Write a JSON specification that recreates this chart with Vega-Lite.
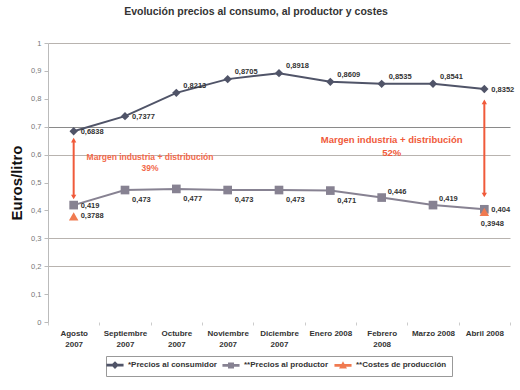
{
  "$schema": "https://vega.github.io/schema/vega-lite/v6.json",
  "width": 462,
  "height": 279,
  "autosize": "none",
  "padding": {"left": 48, "top": 43, "right": 10, "bottom": 68},
  "config": {
    "font": "Liberation Sans",
    "view": {"stroke": null},
    "axisY": {"tickCount": 11},
    "locale": {"number": {"decimal": ",", "thousands": ".", "grouping": [3], "currency": ["", " €"]}}
  },
  "title": {
    "text": "Evolución precios al consumo, al productor y costes",
    "fontSize": 10.5,
    "fontWeight": "bold",
    "color": "#333333",
    "anchor": "middle",
    "offset": 22,
    "dx": -23
  },
  "datasets": {
    "precios": [
      {"mes": "Agosto 2007", "serie": "*Precios al consumidor", "valor": 0.6838},
      {"mes": "Septiembre 2007", "serie": "*Precios al consumidor", "valor": 0.7377},
      {"mes": "Octubre 2007", "serie": "*Precios al consumidor", "valor": 0.8213},
      {"mes": "Noviembre 2007", "serie": "*Precios al consumidor", "valor": 0.8705},
      {"mes": "Diciembre 2007", "serie": "*Precios al consumidor", "valor": 0.8918},
      {"mes": "Enero 2008", "serie": "*Precios al consumidor", "valor": 0.8609},
      {"mes": "Febrero 2008", "serie": "*Precios al consumidor", "valor": 0.8535},
      {"mes": "Marzo 2008", "serie": "*Precios al consumidor", "valor": 0.8541},
      {"mes": "Abril 2008", "serie": "*Precios al consumidor", "valor": 0.8352},
      {"mes": "Agosto 2007", "serie": "**Precios al productor", "valor": 0.419},
      {"mes": "Septiembre 2007", "serie": "**Precios al productor", "valor": 0.473},
      {"mes": "Octubre 2007", "serie": "**Precios al productor", "valor": 0.477},
      {"mes": "Noviembre 2007", "serie": "**Precios al productor", "valor": 0.473},
      {"mes": "Diciembre 2007", "serie": "**Precios al productor", "valor": 0.473},
      {"mes": "Enero 2008", "serie": "**Precios al productor", "valor": 0.471},
      {"mes": "Febrero 2008", "serie": "**Precios al productor", "valor": 0.446},
      {"mes": "Marzo 2008", "serie": "**Precios al productor", "valor": 0.419},
      {"mes": "Abril 2008", "serie": "**Precios al productor", "valor": 0.404},
      {"mes": "Agosto 2007", "serie": "**Costes de producción", "valor": 0.3788},
      {"mes": "Abril 2008", "serie": "**Costes de producción", "valor": 0.3948}
    ],
    "flechas": [
      {"mes": "Agosto 2007", "desde": 0.448, "hasta": 0.652},
      {"mes": "Abril 2008", "desde": 0.455, "hasta": 0.789}
    ],
    "notas": [
      {"mes": "Septiembre 2007", "y": 0.59, "texto": "Margen industria + distribución\n39%", "grupo": "a"},
      {"mes": "Febrero 2008", "y": 0.654, "texto": "Margen industria + distribución\n52%", "grupo": "b"}
    ]
  },
  "encoding": {
    "x": {
      "field": "mes",
      "type": "nominal",
      "sort": null,
      "scale": {
        "type": "band",
        "paddingInner": 0,
        "paddingOuter": 0,
        "domain": ["Agosto 2007", "Septiembre 2007", "Octubre 2007", "Noviembre 2007", "Diciembre 2007", "Enero 2008", "Febrero 2008", "Marzo 2008", "Abril 2008"]
      },
      "axis": {
        "title": null,
        "labelAngle": 0,
        "labelFontSize": 8,
        "labelFontWeight": "bold",
        "labelColor": "#333333",
        "labelPadding": 4,
        "labelLineHeight": 11,
        "labelExpr": "(datum.label == 'Enero 2008' || datum.label == 'Marzo 2008' || datum.label == 'Abril 2008') ? datum.label : split(datum.label, ' ')",
        "domain": false,
        "ticks": true,
        "tickBand": "extent",
        "tickSize": 3,
        "tickColor": "#cccccc",
        "grid": false
      }
    }
  },
  "layer": [
    {
      "data": {"name": "precios"},
      "transform": [{"filter": "datum.serie != '**Costes de producción'"}],
      "mark": {"type": "line", "strokeWidth": 2},
      "encoding": {
        "y": {
          "field": "valor",
          "type": "quantitative",
          "scale": {"domain": [0, 1], "nice": false},
          "axis": {
            "title": "Euros/litro",
            "titleFontSize": 15,
            "titleFontWeight": "bold",
            "titleColor": "#111111",
            "titlePadding": 6,
            "values": [0, 0.1, 0.2, 0.3, 0.4, 0.5, 0.6, 0.7, 0.8, 0.9, 1],
            "tickCount": 11,
            "labelOverlap": false,
            "format": ".1~f",
            "labelFontSize": 7.5,
            "labelColor": "#777777",
            "labelPadding": 3,
            "tickSize": 4,
            "tickColor": "#bbbbbb",
            "domainColor": "#bbbbbb",
            "grid": true,
            "gridColor": {"condition": {"test": "round(datum.value*10) == 7", "value": "#8a8a8a"}, "value": "#b8b3af"},
            "gridOpacity": {"condition": {"test": "indexof([2,3,6,7,10], round(datum.value*10)) >= 0", "value": 1}, "value": 0},
            "gridWidth": 1.2
          }
        },
        "color": {
          "field": "serie",
          "type": "nominal",
          "scale": {
            "domain": ["*Precios al consumidor", "**Precios al productor", "**Costes de producción"],
            "range": ["#505468", "#878292", "#f07a50"]
          }
        }
      }
    },
    {
      "data": {"name": "flechas"},
      "mark": {"type": "rule", "color": "#f05a3a", "strokeWidth": 2},
      "encoding": {
        "y": {"field": "desde", "type": "quantitative"},
        "y2": {"field": "hasta"}
      }
    },
    {
      "data": {"name": "flechas"},
      "mark": {"type": "point", "shape": "triangle-up", "filled": true, "color": "#f05a3a", "size": 28, "opacity": 1},
      "encoding": {
        "y": {"field": "hasta", "type": "quantitative"}
      }
    },
    {
      "data": {"name": "flechas"},
      "mark": {"type": "point", "shape": "triangle-down", "filled": true, "color": "#f05a3a", "size": 28, "opacity": 1},
      "encoding": {
        "y": {"field": "desde", "type": "quantitative"}
      }
    },
    {
      "data": {"name": "precios"},
      "transform": [{"filter": "datum.serie == '*Precios al consumidor'"}],
      "mark": {"type": "point", "shape": "diamond", "filled": true, "opacity": 1, "size": 70},
      "encoding": {
        "y": {"field": "valor", "type": "quantitative"},
        "color": {"field": "serie", "type": "nominal"}
      }
    },
    {
      "data": {"name": "precios"},
      "transform": [{"filter": "datum.serie == '**Precios al productor'"}],
      "mark": {"type": "point", "shape": "square", "filled": true, "opacity": 1, "size": 75},
      "encoding": {
        "y": {"field": "valor", "type": "quantitative"},
        "color": {"field": "serie", "type": "nominal"}
      }
    },
    {
      "data": {"name": "precios"},
      "transform": [{"filter": "datum.serie == '**Costes de producción'"}],
      "mark": {"type": "point", "shape": "triangle-up", "filled": true, "opacity": 1, "size": 90},
      "encoding": {
        "y": {"field": "valor", "type": "quantitative"},
        "color": {"field": "serie", "type": "nominal"}
      }
    },
    {
      "data": {"name": "precios"},
      "transform": [{"filter": "false"}],
      "mark": {"type": "point", "filled": true, "opacity": 1},
      "encoding": {
        "y": {"field": "valor", "type": "quantitative"},
        "color": {
          "field": "serie",
          "type": "nominal",
          "legend": {
            "title": null,
            "orient": "none",
            "legendX": 58,
            "legendY": 313,
            "direction": "horizontal",
            "labelFontSize": 8,
            "labelFontWeight": "bold",
            "labelColor": "#333333",
            "symbolSize": 36,
            "symbolOpacity": 1,
            "labelOffset": 9,
            "columnPadding": 3,
            "strokeColor": "#999999",
            "padding": 5
          }
        },
        "shape": {
          "field": "serie",
          "type": "nominal",
          "scale": {
            "domain": ["*Precios al consumidor", "**Precios al productor", "**Costes de producción"],
            "range": [
              "M-2.6,-0.22H2.6V0.22H-2.6Z M-0.95,0L0,-0.95L0.95,0L0,0.95Z",
              "M-2.6,-0.22H2.6V0.22H-2.6Z M-0.75,-0.75H0.75V0.75H-0.75Z",
              "M-2.6,-0.22H2.6V0.22H-2.6Z M-0.9,0.75L0.9,0.75L0,-0.85Z"
            ]
          },
          "legend": {
            "title": null,
            "orient": "none",
            "legendX": 58,
            "legendY": 313,
            "direction": "horizontal",
            "labelFontSize": 8,
            "labelFontWeight": "bold",
            "labelColor": "#333333",
            "symbolSize": 36,
            "symbolOpacity": 1,
            "labelOffset": 9,
            "columnPadding": 3,
            "strokeColor": "#999999",
            "padding": 5
          }
        }
      }
    },
    {
      "data": {"name": "precios"},
      "transform": [{"filter": "datum.serie == '*Precios al consumidor' && (datum.mes == 'Agosto 2007' || datum.mes == 'Septiembre 2007' || datum.mes == 'Abril 2008')"}],
      "mark": {"type": "text", "align": "left", "dx": 7, "dy": 1, "fontSize": 7.5, "fontWeight": "bold", "color": "#333333"},
      "encoding": {
        "y": {"field": "valor", "type": "quantitative"},
        "text": {"field": "valor", "type": "quantitative", "format": ".4~f"}
      }
    },
    {
      "data": {"name": "precios"},
      "transform": [{"filter": "datum.serie == '*Precios al consumidor' && !(datum.mes == 'Agosto 2007' || datum.mes == 'Septiembre 2007' || datum.mes == 'Abril 2008')"}],
      "mark": {"type": "text", "align": "left", "dx": 7, "dy": -7, "fontSize": 7.5, "fontWeight": "bold", "color": "#333333"},
      "encoding": {
        "y": {"field": "valor", "type": "quantitative"},
        "text": {"field": "valor", "type": "quantitative", "format": ".4~f"}
      }
    },
    {
      "data": {"name": "precios"},
      "transform": [{"filter": "datum.serie == '**Precios al productor' && (datum.mes == 'Agosto 2007' || datum.mes == 'Abril 2008')"}],
      "mark": {"type": "text", "align": "left", "dx": 7, "dy": 1, "fontSize": 7.5, "fontWeight": "bold", "color": "#333333"},
      "encoding": {
        "y": {"field": "valor", "type": "quantitative"},
        "text": {"field": "valor", "type": "quantitative", "format": ".4~f"}
      }
    },
    {
      "data": {"name": "precios"},
      "transform": [{"filter": "datum.serie == '**Precios al productor' && (datum.mes == 'Febrero 2008' || datum.mes == 'Marzo 2008')"}],
      "mark": {"type": "text", "align": "left", "dx": 6, "dy": -6, "fontSize": 7.5, "fontWeight": "bold", "color": "#333333"},
      "encoding": {
        "y": {"field": "valor", "type": "quantitative"},
        "text": {"field": "valor", "type": "quantitative", "format": ".4~f"}
      }
    },
    {
      "data": {"name": "precios"},
      "transform": [{"filter": "datum.serie == '**Precios al productor' && indexof(['Septiembre 2007','Octubre 2007','Noviembre 2007','Diciembre 2007','Enero 2008'], datum.mes) >= 0"}],
      "mark": {"type": "text", "align": "left", "dx": 7, "dy": 10, "fontSize": 7.5, "fontWeight": "bold", "color": "#333333"},
      "encoding": {
        "y": {"field": "valor", "type": "quantitative"},
        "text": {"field": "valor", "type": "quantitative", "format": ".4~f"}
      }
    },
    {
      "data": {"name": "precios"},
      "transform": [{"filter": "datum.serie == '**Costes de producción' && datum.mes == 'Agosto 2007'"}],
      "mark": {"type": "text", "align": "left", "dx": 7, "dy": 0, "fontSize": 7.5, "fontWeight": "bold", "color": "#333333"},
      "encoding": {
        "y": {"field": "valor", "type": "quantitative"},
        "text": {"field": "valor", "type": "quantitative", "format": ".4~f"}
      }
    },
    {
      "data": {"name": "precios"},
      "transform": [{"filter": "datum.serie == '**Costes de producción' && datum.mes == 'Abril 2008'"}],
      "mark": {"type": "text", "align": "center", "dx": 8, "dy": 12, "fontSize": 7.5, "fontWeight": "bold", "color": "#333333"},
      "encoding": {
        "y": {"field": "valor", "type": "quantitative"},
        "text": {"field": "valor", "type": "quantitative", "format": ".4~f"}
      }
    },
    {
      "data": {"name": "notas"},
      "transform": [{"filter": "datum.grupo == 'a'"}],
      "mark": {"type": "text", "align": "center", "baseline": "middle", "dx": 25, "fontSize": 8.5, "fontWeight": "bold", "color": "#f26a4b", "lineBreak": "\n", "lineHeight": 11},
      "encoding": {
        "y": {"field": "y", "type": "quantitative"},
        "text": {"field": "texto", "type": "nominal"}
      }
    },
    {
      "data": {"name": "notas"},
      "transform": [{"filter": "datum.grupo == 'b'"}],
      "mark": {"type": "text", "align": "center", "baseline": "middle", "dx": 10, "fontSize": 9.5, "fontWeight": "bold", "color": "#f05a3a", "lineBreak": "\n", "lineHeight": 13},
      "encoding": {
        "y": {"field": "y", "type": "quantitative"},
        "text": {"field": "texto", "type": "nominal"}
      }
    }
  ]
}
